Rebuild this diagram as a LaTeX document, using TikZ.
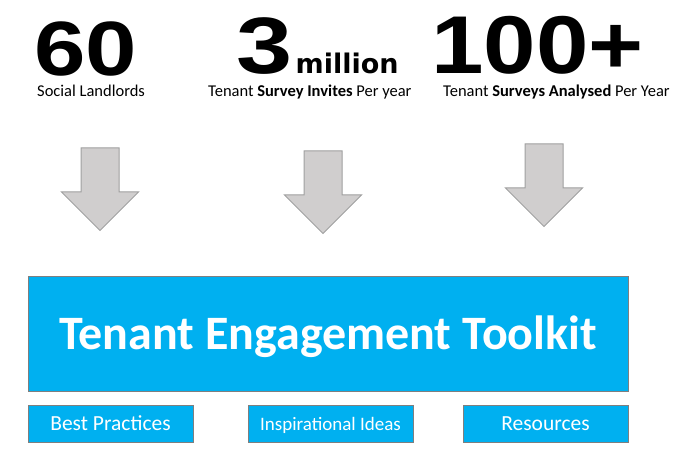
\documentclass[tikz,border=0pt]{standalone}
\usepackage{fontspec}
\setmainfont{Carlito}
\newfontfamily\numfont{Liberation Sans}
\newfontfamily\unitfont{DejaVu Sans}
\usetikzlibrary{positioning}
\definecolor{toolblue}{HTML}{00B0F0}
\definecolor{boxedge}{HTML}{7F7F7F}
\definecolor{arrowfill}{HTML}{D0CECE}
\definecolor{arrowedge}{HTML}{A0A0A0}
\newcommand{\bignum}[3]{\scalebox{#1}[1]{\fontsize{#2}{#2}\numfont\bfseries #3}}

\begin{document}
\begin{tikzpicture}[
    x=1pt, y=-1pt,
    stat/.style={anchor=base west, inner sep=0pt, text depth=0pt},
    caption/.style={anchor=base west, inner sep=0pt, text height=10.5pt,
                    font=\fontsize{16.5}{18}\selectfont},
    toolbox/.style={draw=boxedge, line width=1pt, fill=toolblue, text=white, inner sep=0pt},
    partbox/.style={toolbox, minimum width=165pt, minimum height=37pt,
                    text height=13.5pt, text depth=0pt},
    downarrow/.pic={
        \draw[fill=arrowfill, draw=arrowedge, line width=1pt]
            (-19,0) -- (19,0) -- (19,44) -- (38.5,44) -- (0,82.5)
            -- (-38.5,44) -- (-19,44) -- cycle;
    },
]
\useasboundingbox (0,0) rectangle (683,454);
% === Headline figures ===
\node[stat] (landlords) at (34,76) {\bignum{1.2}{77}{60}};
\node[stat] (invites) at (236,74) {\bignum{1.26}{80}{3}};
\node[stat, right=3pt of invites.base east, anchor=base west] (million)
    {\fontsize{27}{27}\unitfont\bfseries million};
\node[stat] (surveys) at (431,74) {\bignum{1.15}{82}{100+}};
% === Captions below each figure ===
\node[caption] (landlordscap) at (37,97) {Social Landlords};
\node[caption] (invitescap) at (208,97) {Tenant \textbf{Survey Invites} Per year};
\node[caption] (surveyscap) at (443,97) {Tenant \textbf{Surveys Analysed} Per Year};
% === Block arrows pointing down to the toolkit ===
\pic at (100,148) {downarrow};
\pic at (323,151) {downarrow};
\pic at (544,144) {downarrow};
% === Toolkit and its three parts ===
\node[toolbox, minimum width=600pt, minimum height=114pt, text height=30.5pt, text depth=0pt,
      font=\fontsize{48}{48}\selectfont\bfseries] (toolkit) at (328,334) {Tenant Engagement Toolkit};
\node[partbox, font=\fontsize{21.5}{22}\selectfont] (practices) at (110.5,423.5) {Best Practices};
\node[partbox, font=\fontsize{19}{20}\selectfont] (ideas) at (330.5,423.5) {Inspirational Ideas};
\node[partbox, font=\fontsize{21.5}{22}\selectfont] (resources) at (545.5,423.5) {Resources};
\end{tikzpicture}
\end{document}
